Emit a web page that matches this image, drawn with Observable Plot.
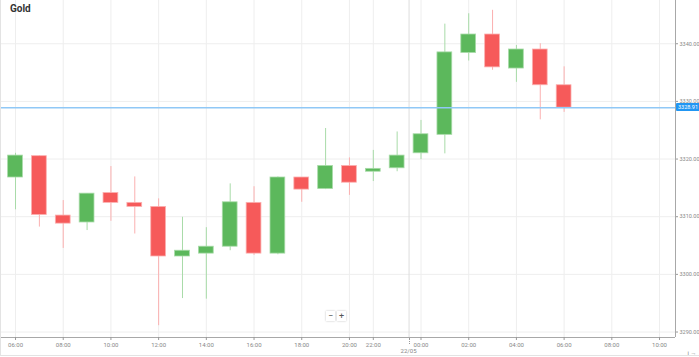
<!DOCTYPE html>
<html>
<head>
<meta charset="utf-8">
<script src="https://cdn.jsdelivr.net/npm/d3@7"></script>
<script src="https://cdn.jsdelivr.net/npm/@observablehq/plot@0.6"></script>
<style>
  html, body { margin: 0; padding: 0; background: #fff; }
  #wrap { position: relative; width: 699px; height: 357px; font-family: Roboto, "Noto Sans", sans-serif; overflow: hidden; }
  #title { position: absolute; left: 10px; top: 3px; font-size: 10px; font-weight: bold; color: #333; }
  #border { position: absolute; left: 0; top: 0; width: 698px; height: 355px; border-left: 1px solid #e3e3e3; border-bottom: 1px solid #e3e3e3; pointer-events: none; }
  #zoomBtns { position: absolute; left: 326px; top: 311px; display: flex; gap: 2px; }
  #zoomBtns span { display: inline-block; width: 9px; height: 10px; line-height: 10px; text-align: center; font-size: 9px; color: #555; background: #fff; box-shadow: 0 0 2px rgba(0,0,0,0.25); }
  #priceTag { position: absolute; left: 676px; height: 8px; line-height: 8px; padding: 0 2px; font-size: 5.5px; color: #fff; background: #2196f3; border-radius: 1px; }
  #sepDots { position: absolute; width: 0; height: 6px; border-left: 1px dotted #999; }
  #sepLabel { position: absolute; font-size: 6px; color: #888; transform: translateX(-50%); }
</style>
</head>
<body>
<div id="wrap"></div>
<script>
// Hourly candles (index = position on the time axis)
const hours = ["06:00","07:00","08:00","09:00","10:00","11:00","12:00","13:00","14:00","15:00","16:00","17:00","18:00","19:00","20:00","22:00","23:00","00:00","01:00","02:00","03:00","04:00","05:00","06:00"];
const opens  = [3316.8, 3320.5, 3310.2, 3309.0, 3314.1, 3312.4, 3311.7, 3303.1, 3303.6, 3304.8, 3312.4, 3303.6, 3316.8, 3314.8, 3318.8, 3317.8, 3318.4, 3321.0, 3324.2, 3338.4, 3341.6, 3335.7, 3339.0, 3332.8];
const highs  = [3321.0, 3320.6, 3312.8, 3314.0, 3318.7, 3316.9, 3313.1, 3309.9, 3308.1, 3315.7, 3315.2, 3316.9, 3316.8, 3325.3, 3320.2, 3321.5, 3324.7, 3326.7, 3343.4, 3345.2, 3345.8, 3339.7, 3340.0, 3336.0];
const lows   = [3311.2, 3308.2, 3304.5, 3307.6, 3309.2, 3307.0, 3291.1, 3295.8, 3295.7, 3304.1, 3303.3, 3303.4, 3312.5, 3314.7, 3313.7, 3316.1, 3317.8, 3319.9, 3320.9, 3337.0, 3335.4, 3333.3, 3326.8, 3328.1];
const closes = [3320.6, 3310.3, 3308.8, 3314.0, 3312.4, 3311.7, 3303.1, 3304.1, 3304.8, 3312.5, 3303.6, 3316.8, 3314.7, 3318.8, 3315.9, 3318.3, 3320.6, 3324.3, 3338.5, 3341.6, 3335.9, 3339.0, 3332.8, 3328.91];

// Axis ticks
const xTickIdx    = [0, 2, 4, 6, 8, 10, 12, 14, 15, 17, 19, 21, 23, 25, 27];
const xTickLabels = ["06:00","08:00","10:00","12:00","14:00","16:00","18:00","20:00","22:00","00:00","02:00","04:00","06:00","08:00","10:00"];
const yTicks = [3290, 3300, 3310, 3320, 3330, 3340];
const xDomain = [-0.63, 27.67];
const yDomain = [3289.05, 3347.5];
const lastPrice = 3328.91;
const daySep = 16.5;
const daySepLabel = "22/05";

const GREEN = "#5cb85c", RED = "#f65a5a";
const GREEN_L = "#a8dba8", RED_L = "#fbb0b0";

const candles = hours.map((h, i) => ({
  i, h, o: opens[i], hi: highs[i], lo: lows[i], c: closes[i],
  up: closes[i] >= opens[i]
}));
const half = 0.31;

const plot = Plot.plot({
  width: 699,
  height: 357,
  marginLeft: 0,
  marginRight: 24,
  marginTop: 0,
  marginBottom: 20,
  style: { fontFamily: "Roboto, 'Noto Sans', sans-serif", background: "transparent" },
  x: { type: "linear", domain: xDomain, axis: null },
  y: { domain: yDomain, axis: null },
  marks: [
    Plot.gridX(xTickIdx, { stroke: "#eeeeee", strokeOpacity: 1 }),
    Plot.gridY(yTicks, { stroke: "#eeeeee", strokeOpacity: 1 }),
    Plot.ruleX([daySep], { stroke: "#dddddd", strokeWidth: 1 }),
    // wicks
    Plot.ruleX(candles, { x: "i", y1: "lo", y2: "hi", stroke: d => d.up ? GREEN_L : RED_L, strokeWidth: 1 }),
    // bodies
    Plot.rect(candles, {
      x1: d => d.i - half, x2: d => d.i + half,
      y1: "o", y2: "c",
      fill: d => d.up ? GREEN : RED,
      stroke: d => d.up ? GREEN_L : RED_L,
      strokeWidth: 0.8
    }),
    // current price line
    Plot.ruleY([lastPrice], { stroke: "#90c8f6", strokeWidth: 1.6 }),
    // axis lines
    Plot.ruleY([yDomain[0]], { stroke: "#a8a8a8", strokeWidth: 1 }),
    Plot.ruleX([xDomain[1]], { stroke: "#a8a8a8", strokeWidth: 1 }),
    Plot.axisX(xTickIdx, {
      anchor: "bottom",
      tickSize: 3,
      tickPadding: 2,
      stroke: "#999",
      fill: "#888",
      fontSize: 6,
      tickFormat: v => xTickLabels[xTickIdx.indexOf(v)]
    }),
    Plot.axisY(yTicks, {
      anchor: "right",
      tickSize: 2,
      tickPadding: 2,
      stroke: "#999",
      fill: "#888",
      fontSize: 5.5,
      tickFormat: v => v.toFixed(2)
    })
  ]
});

const wrap = document.getElementById("wrap");
wrap.appendChild(plot);

const title = document.createElement("div");
title.id = "title"; title.textContent = "Gold";
wrap.appendChild(title);

const border = document.createElement("div");
border.id = "border";
wrap.appendChild(border);

const btns = document.createElement("div");
btns.id = "zoomBtns";
btns.innerHTML = "<span>−</span><span>+</span>";
wrap.appendChild(btns);

const ys = plot.scale("y"), xs = plot.scale("x");
const tag = document.createElement("div");
tag.id = "priceTag";
tag.textContent = lastPrice.toFixed(2);
tag.style.top = (ys.apply(lastPrice) - 4) + "px";
wrap.appendChild(tag);

const sx = xs.apply(daySep);
const dots = document.createElement("div");
dots.id = "sepDots";
dots.style.left = sx + "px";
dots.style.top = "338px";
wrap.appendChild(dots);
const sl = document.createElement("div");
sl.id = "sepLabel";
sl.textContent = daySepLabel;
sl.style.left = sx + "px";
sl.style.top = "347px";
wrap.appendChild(sl);
</script>
</body>
</html>
